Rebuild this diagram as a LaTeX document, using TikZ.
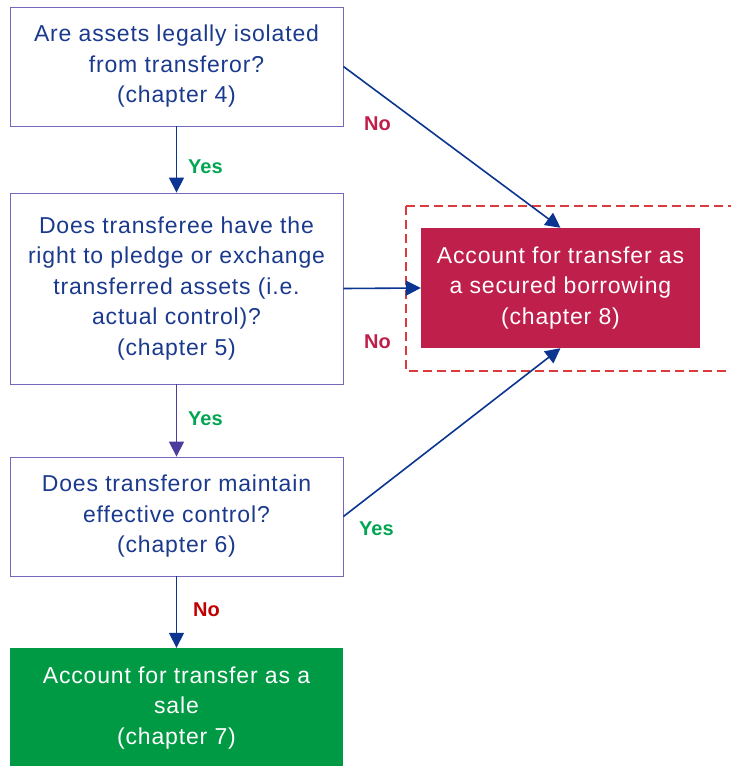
\documentclass[tikz,border=0pt]{standalone}
\usepackage{fontspec}
\setmainfont{Liberation Sans}
\usetikzlibrary{arrows.meta}
\definecolor{txtblue}{HTML}{1B3A8E}
\definecolor{arrblue}{HTML}{0B3590}
\definecolor{arrpurple}{HTML}{4C3C9E}
\definecolor{boxline}{HTML}{7467BC}
\definecolor{borrowred}{HTML}{BF1F4B}
\definecolor{dashred}{HTML}{DC3B3E}
\definecolor{salegreen}{HTML}{009A44}
\definecolor{yesgreen}{HTML}{00A651}
\definecolor{nodark}{HTML}{C00000}
\newcommand{\boxfont}{\fontsize{23}{30.5}\selectfont\addfontfeature{LetterSpace=3.6}}
\tikzset{
  question/.style={draw=boxline, line width=0.9pt, fill=white, text=txtblue,
    minimum width=333pt, inner sep=0pt, align=center, font=\boxfont,
    execute at begin node={\rule{0pt}{25pt}}},
  outcome/.style={draw=none, text=white, inner sep=0pt, align=center, font=\boxfont,
    execute at begin node={\rule{0pt}{25pt}}},
  flow/.style={draw=arrblue, line width=1.6pt,
    -{Triangle[length=15pt,width=15pt]}},
  yeslbl/.style={text=yesgreen, font=\fontsize{20}{24}\selectfont\bfseries, inner sep=0pt},
  nolbl/.style={text=borrowred, font=\fontsize{20}{24}\selectfont\bfseries, inner sep=0pt},
}
\begin{document}
\begin{tikzpicture}[x=1pt,y=-1pt]
\useasboundingbox (0,0) rectangle (731,766);
% decision boxes
\node[question, minimum height=119pt] (q1) at (176.5,66.5)
  {Are assets legally isolated\\from transferor?\\(chapter 4)};
\node[question, minimum height=191pt] (q2) at (176.5,288.5)
  {Does transferee have the\\right to pledge or exchange\\transferred assets (i.e.\\actual control)?\\(chapter 5)};
\node[question, minimum height=119pt] (q3) at (176.5,516.5)
  {Does transferor maintain\\effective control?\\(chapter 6)};
% outcomes
\node[outcome, fill=salegreen, minimum width=333pt, minimum height=120pt] (sale) at (176.5,708)
  {Account for transfer as a\\sale\\(chapter 7)};
\draw[dashred, line width=1.2pt, dash pattern=on 9pt off 5pt]
  (406,206) -- (740,206) (740,371) -- (406,371) -- (406,206);
\node[outcome, fill=borrowred, minimum width=279pt, minimum height=120pt] (borrow) at (560.5,288)
  {Account for transfer as\\a secured borrowing\\(chapter 8)};
% connectors
\draw[flow] (q1.south) -- (q2.north);
\draw[flow, draw=arrpurple, fill=arrpurple] (q2.south) -- (q3.north);
\draw[flow] (q3.south) -- (sale.north);
\draw[flow] (q1.east) -- (borrow.north);
\draw[flow] (q2.east) -- (borrow.west);
\draw[flow] (q3.east) -- (borrow.south);
% labels
\node[yeslbl, anchor=west] (y1) at (188,167) {Yes};
\node[yeslbl, anchor=west] (y2) at (188,419) {Yes};
\node[yeslbl, anchor=west] (y3) at (359,529) {Yes};
\node[nolbl, anchor=west] (n1) at (364,124) {No};
\node[nolbl, anchor=west] (n2) at (364,342) {No};
\node[nolbl, text=nodark, anchor=west] (n3) at (193,610) {No};
\end{tikzpicture}
\end{document}
